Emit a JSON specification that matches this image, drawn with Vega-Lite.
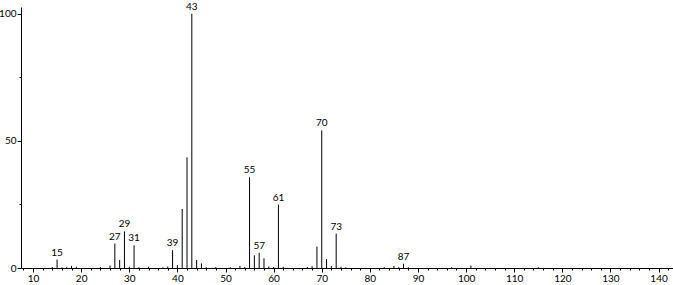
{
  "$schema": "https://vega.github.io/schema/vega-lite/v6.json",
  "width": 652,
  "height": 261,
  "autosize": {"type": "none"},
  "padding": {"left": 21, "top": 7, "right": 0, "bottom": 17},
  "background": "white",
  "config": {
    "view": {"stroke": null},
    "axis": {
      "domainColor": "black",
      "tickColor": "black",
      "labelColor": "black",
      "labelFont": "Lato",
      "labelFontSize": 10,
      "grid": false,
      "title": null
    }
  },
  "data": {
    "values": [
      {"mz": 14, "intensity": 0.4, "label": ""},
      {"mz": 15, "intensity": 3.3, "label": "15"},
      {"mz": 16, "intensity": 0.3, "label": ""},
      {"mz": 17, "intensity": 0.4, "label": ""},
      {"mz": 18, "intensity": 0.8, "label": ""},
      {"mz": 19, "intensity": 0.5, "label": ""},
      {"mz": 24, "intensity": 0.4, "label": ""},
      {"mz": 26, "intensity": 1.0, "label": ""},
      {"mz": 27, "intensity": 9.6, "label": "27"},
      {"mz": 28, "intensity": 3.1, "label": ""},
      {"mz": 29, "intensity": 14.4, "label": "29"},
      {"mz": 30, "intensity": 0.5, "label": ""},
      {"mz": 31, "intensity": 8.9, "label": "31"},
      {"mz": 32, "intensity": 0.3, "label": ""},
      {"mz": 34, "intensity": 0.5, "label": ""},
      {"mz": 37, "intensity": 0.3, "label": ""},
      {"mz": 38, "intensity": 0.6, "label": ""},
      {"mz": 39, "intensity": 7.0, "label": "39"},
      {"mz": 40, "intensity": 1.1, "label": ""},
      {"mz": 41, "intensity": 23.2, "label": ""},
      {"mz": 42, "intensity": 43.5, "label": ""},
      {"mz": 43, "intensity": 100, "label": "43"},
      {"mz": 44, "intensity": 3.1, "label": ""},
      {"mz": 45, "intensity": 1.8, "label": ""},
      {"mz": 46, "intensity": 0.3, "label": ""},
      {"mz": 48, "intensity": 0.4, "label": ""},
      {"mz": 51, "intensity": 0.3, "label": ""},
      {"mz": 53, "intensity": 0.8, "label": ""},
      {"mz": 54, "intensity": 0.4, "label": ""},
      {"mz": 55, "intensity": 35.7, "label": "55"},
      {"mz": 56, "intensity": 5.0, "label": ""},
      {"mz": 57, "intensity": 6.0, "label": "57"},
      {"mz": 58, "intensity": 3.8, "label": ""},
      {"mz": 59, "intensity": 0.6, "label": ""},
      {"mz": 60, "intensity": 0.4, "label": ""},
      {"mz": 61, "intensity": 24.9, "label": "61"},
      {"mz": 62, "intensity": 0.5, "label": ""},
      {"mz": 67, "intensity": 0.4, "label": ""},
      {"mz": 68, "intensity": 0.7, "label": ""},
      {"mz": 69, "intensity": 8.4, "label": ""},
      {"mz": 70, "intensity": 54.1, "label": "70"},
      {"mz": 71, "intensity": 3.5, "label": ""},
      {"mz": 72, "intensity": 0.8, "label": ""},
      {"mz": 73, "intensity": 13.5, "label": "73"},
      {"mz": 74, "intensity": 0.5, "label": ""},
      {"mz": 75, "intensity": 0.3, "label": ""},
      {"mz": 83, "intensity": 0.3, "label": ""},
      {"mz": 85, "intensity": 0.8, "label": ""},
      {"mz": 86, "intensity": 0.3, "label": ""},
      {"mz": 87, "intensity": 1.7, "label": "87"},
      {"mz": 88, "intensity": 0.3, "label": ""},
      {"mz": 97, "intensity": 0.3, "label": ""},
      {"mz": 101, "intensity": 1.0, "label": ""},
      {"mz": 115, "intensity": 0.3, "label": ""}
    ]
  },
  "layer": [
    {
      "mark": {"type": "rule", "color": "black", "strokeWidth": 1},
      "encoding": {
        "x": {
          "field": "mz",
          "type": "quantitative",
          "scale": {"domain": [7.5, 143], "nice": false, "zero": false},
          "axis": {
            "orient": "bottom",
            "values": [10, 20, 30, 40, 50, 60, 70, 80, 90, 100, 110, 120, 130, 140],
            "tickSize": 4,
            "labelPadding": 1,
            "labelFlush": false
          }
        },
        "y": {
          "field": "intensity",
          "type": "quantitative",
          "scale": {"domain": [0, 102.6], "nice": false},
          "axis": {
            "orient": "left",
            "values": [0, 50, 100],
            "tickSize": 4,
            "labelPadding": 1,
            "labelFlush": false
          }
        },
        "y2": {"datum": 0}
      }
    },
    {
      "transform": [{"filter": "datum.label != ''"}],
      "mark": {"type": "text", "baseline": "bottom", "dy": -2, "font": "Lato", "fontSize": 10, "color": "black"},
      "encoding": {
        "x": {
          "field": "mz",
          "type": "quantitative",
          "axis": {
            "orient": "bottom",
            "values": [8, 12, 14, 16, 18, 22, 24, 26, 28, 32, 34, 36, 38, 42, 44, 46, 48, 52, 54, 56, 58, 62, 64, 66, 68, 72, 74, 76, 78, 82, 84, 86, 88, 92, 94, 96, 98, 102, 104, 106, 108, 112, 114, 116, 118, 122, 124, 126, 128, 132, 134, 136, 138, 142],
            "tickSize": 2,
            "labels": false,
            "domain": false
          }
        },
        "y": {
          "field": "intensity",
          "type": "quantitative",
          "axis": {
            "orient": "left",
            "values": [25, 75],
            "tickSize": 2,
            "labels": false,
            "domain": false
          }
        },
        "text": {"field": "label"}
      }
    }
  ],
  "resolve": {"axis": {"x": "independent", "y": "independent"}}
}
